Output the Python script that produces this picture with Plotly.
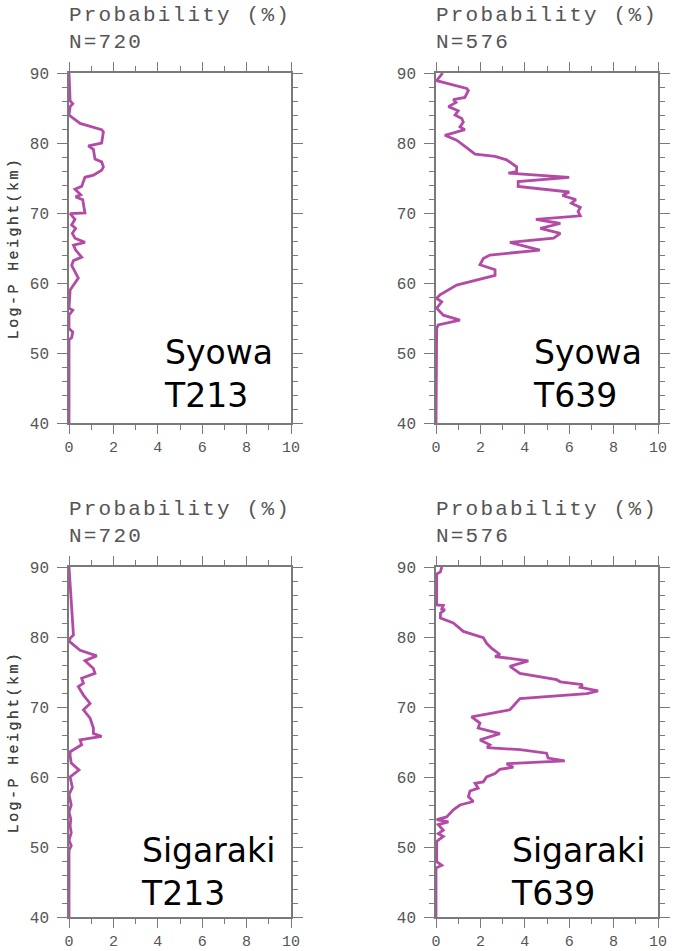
import plotly.graph_objects as go

# ---------------- data (height km, probability %) ----------------
syowa_t213_h = [90, 87, 86, 85.6, 85.2, 84.0, 82.8, 81.9, 81.6, 80.0, 79.6, 79.1, 77.7, 77.3, 76.6,
                76.1, 75.4, 75.1, 73.8, 73.4, 73.0, 72.6, 72.3, 71.9, 70.7, 70.0, 69.9, 69.1, 68.3,
                67.8, 67.1, 66.4, 65.8, 65.4, 64.7, 63.7, 63.2, 62.5, 60.7, 60.0, 59.0, 56.4, 56.1,
                55.4, 53.5, 53.0, 52.2, 51.9, 40]
syowa_t213_p = [0, 0.05, 0.05, 0.17, 0.05, 0, 0.5, 1.47, 1.55, 1.47, 0.87, 1.1, 1.17, 1.47, 1.55,
                1.47, 1.1, 0.72, 0.57, 0.27, 0.42, 0.53, 0.3, 0.62, 0.68, 0.72, 0.05, 0.27, 0.12,
                0.3, 0.15, 0.27, 0.72, 0.2, 0.3, 0.57, 0.2, 0.12, 0.42, 0.27, 0.05, 0, 0.17,
                0, 0, 0.17, 0.12, 0, 0]

syowa_t639_h = [90, 88.9, 87.8, 87.5, 86.5, 86.2, 85.8, 85.2, 84.6, 84.0, 83.5, 83.0, 82.3, 81.9,
                81.1, 80.4, 79.7, 79.0, 78.4, 78.1, 77.6, 76.6, 75.9, 75.7, 75.1, 74.5, 73.8, 73.0,
                72.5, 71.9, 71.4, 70.8, 70.2, 69.6, 69.1, 68.5, 67.8, 67.1, 66.4, 65.8, 65.2, 64.7,
                64.0, 63.5, 62.6, 61.9, 61.1, 59.7, 58.3, 57.8, 57.3, 56.4, 55.4, 54.7, 54.0, 53.5, 40]
syowa_t639_p = [0.3, 0.03, 1.38, 1.46, 1.3, 0.78, 0.9, 0.56, 1.0, 0.86, 1.16, 1.23, 1.08, 1.3,
                0.4, 0.93, 1.23, 1.53, 1.76, 2.66, 3.18, 3.63, 3.63, 3.26, 6.0, 3.7, 3.7, 6.0,
                5.7, 6.3, 6.1, 6.5, 6.4, 6.5, 4.5, 5.6, 4.7, 5.6, 5.3, 3.33, 4.0, 4.68,
                2.43, 2.13, 1.98, 2.66, 2.66, 0.93, 0.18, 0.03, 0.26, 0.03, 0.33, 1.08, 0.1, 0.03, 0]

sigaraki_t213_h = [90, 80.3, 79.8, 79.4, 78.1, 77.3, 76.6, 75.5, 74.8, 74.1, 73.4, 72.9, 71.7, 70.5,
                   69.6, 68.4, 67.0, 66.2, 65.8, 65.3, 64.6, 63.6, 63.0, 62.0, 61.0, 60.4, 60.0,
                   58.5, 57.5, 56.0, 55.0, 54.0, 53.0, 52.0, 51.0, 50.2, 49.5, 40]
sigaraki_t213_p = [0, 0.2, 0.05, 0, 0.5, 1.25, 0.72, 1.1, 1.17, 0.57, 0.65, 0.42, 0.65, 0.95,
                   0.65, 0.95, 1.1, 1.1, 1.47, 0.5, 0.57, 0.05, 0.05, 0.1, 0.45, 0.2, 0.05,
                   0.15, 0, 0.1, 0, 0.08, 0.05, 0.1, 0, 0.1, 0, 0]

sigaraki_t639_h = [90, 89.3, 89.0, 84.6, 84.5, 84.0, 83.9, 83.4, 82.7, 82.0, 80.8, 80.3, 79.9, 79.1,
                   78.4, 77.5, 77.2, 77.0, 76.6, 75.8, 74.8, 73.9, 73.6, 73.2, 72.8, 72.3, 71.9,
                   71.2, 69.6, 68.6, 67.7, 67.0, 66.2, 65.3, 64.6, 64.2, 63.9, 63.4, 62.7, 62.3,
                   61.9, 61.4, 61.1, 60.5, 60.0, 59.3, 59.1, 58.4, 58.0, 57.2, 56.5, 56.0, 55.3,
                   54.3, 53.9, 53.6, 53.2, 52.4, 51.9, 51.5, 50.8, 47.9, 47.4, 47.0, 40]
sigaraki_t639_p = [0.26, 0.2, 0.03, 0.03, 0.33, 0.26, 0.4, 0.2, 0.2, 0.78, 1.23, 1.76, 2.13, 2.28,
                   2.5, 2.88, 2.66, 3.18, 4.16, 3.33, 3.78, 5.43, 5.6, 6.6, 6.5, 7.3, 6.8,
                   3.78, 3.33, 1.6, 1.98, 1.9, 2.88, 1.98, 2.43, 2.3, 3.78, 4.98, 5.05, 5.8,
                   3.18, 3.48, 2.88, 2.66, 2.28, 2.13, 1.76, 1.9, 1.53, 1.46, 1.68, 1.08, 0.78,
                   0.48, 0.03, 0.56, 0.1, 0.33, 0.1, 0.33, 0.03, 0.03, 0.26, 0, 0]

panel_heights = [syowa_t213_h, syowa_t639_h, sigaraki_t213_h, sigaraki_t639_h]
panel_probs = [syowa_t213_p, syowa_t639_p, sigaraki_t213_p, sigaraki_t639_p]
panel_labels = ["Syowa<br>T213", "Syowa<br>T639", "Sigaraki<br>T213", "Sigaraki<br>T639"]
panel_counts = ["N=720", "N=576", "N=720", "N=576"]
label_x = [4.2, 4.3, 3.17, 3.3]

x_ticks = [0, 2, 4, 6, 8, 10]
y_ticks = [40, 50, 60, 70, 80, 90]

# ---------------- layout geometry ----------------
W, H = 673, 951
px_boxes = [(69, 291, 73, 423), (436, 658, 73, 423), (69, 291, 567, 917), (436, 658, 567, 917)]

LINE = "#B34AA6"
AX = "#7a7a7a"
MONO = "Liberation Mono"

fig = go.Figure()
layout = dict(width=W, height=H, autosize=False, margin=dict(l=0, r=0, t=0, b=0),
              paper_bgcolor="white", plot_bgcolor="white", showlegend=False)
annotations = []

for i in range(4):
    n = i + 1
    xa = "x" if n == 1 else f"x{n}"
    ya = "y" if n == 1 else f"y{n}"
    x0, x1, y0, y1 = px_boxes[i]
    fig.add_trace(go.Scatter(x=panel_probs[i], y=panel_heights[i], mode="lines",
                             line=dict(color=LINE, width=2.8), xaxis=xa, yaxis=ya,
                             hoverinfo="skip"))
    common = dict(showline=True, linecolor=AX, linewidth=1.5, mirror="allticks",
                  ticks="outside", ticklen=9, tickwidth=1.2, tickcolor=AX,
                  showgrid=False, zeroline=False, layer="below traces", automargin=False,
                  tickfont=dict(family=MONO, size=16, color="#555"))
    layout["xaxis" if n == 1 else f"xaxis{n}"] = dict(
        common, domain=[x0 / W, x1 / W], range=[0, 10], anchor=ya,
        tickvals=x_ticks, ticktext=[str(v) for v in x_ticks], ticklabelstandoff=0,
        tickfont=dict(family=MONO, size=15, color="#555"),
        minor=dict(ticks="outside", ticklen=5, tickwidth=1.2, tickcolor=AX, dtick=1))
    layout["yaxis" if n == 1 else f"yaxis{n}"] = dict(
        common, domain=[1 - y1 / H, 1 - y0 / H], range=[40, 90], anchor=xa,
        tickvals=y_ticks, ticktext=[str(v) for v in y_ticks], ticklabelstandoff=5,
        ticklen=10,
        minor=dict(ticks="outside", ticklen=5, tickwidth=1.2, tickcolor=AX, dtick=2))
    # header
    annotations.append(dict(text="Probability (%)<br>" + panel_counts[i],
                            xref=f"{xa} domain", yref=f"{ya} domain", x=0, y=1,
                            xanchor="left", yanchor="bottom", align="left", showarrow=False,
                            yshift=17, xshift=-2,
                            font=dict(family=MONO, size=21, color="#555")))
    # y-axis title
    annotations.append(dict(text="Log-P Height(km)", xref="paper", yref=f"{ya} domain",
                            x=14 / W, y=0.5, xanchor="center", yanchor="middle",
                            textangle=-90, showarrow=False,
                            font=dict(family=MONO, size=15, color="#444")))
    # station / model label
    annotations.append(dict(text=panel_labels[i], xref=xa, yref=f"{ya} domain",
                            x=label_x[i], y=0, xanchor="left", yanchor="bottom",
                            align="left", showarrow=False, yshift=6 if i < 2 else 2,
                            font=dict(family="DejaVu Sans", size=33, color="black")))

layout["annotations"] = annotations
fig.update_layout(**layout)

post = """
document.documentElement.style.margin = '0';
document.documentElement.style.padding = '0';
document.documentElement.style.overflow = 'hidden';
document.body.style.margin = '0';
document.body.style.padding = '0';
document.body.style.overflow = 'hidden';
function lsFix(){
  document.querySelectorAll('.annotation-text').forEach(function(t){
    var s = t.textContent;
    if (s.indexOf('Probability') >= 0) { t.style.letterSpacing = '2.2px'; }
    else if (s.indexOf('Log-P') >= 0) { t.style.letterSpacing = '2.4px'; }
  });
}
lsFix();
var gdiv = document.getElementById('{plot_id}');
if (gdiv && gdiv.on) { gdiv.on('plotly_afterplot', lsFix); }
"""

fig.write_html("out.html", post_script=post, config={"displayModeBar": False, "responsive": False})
